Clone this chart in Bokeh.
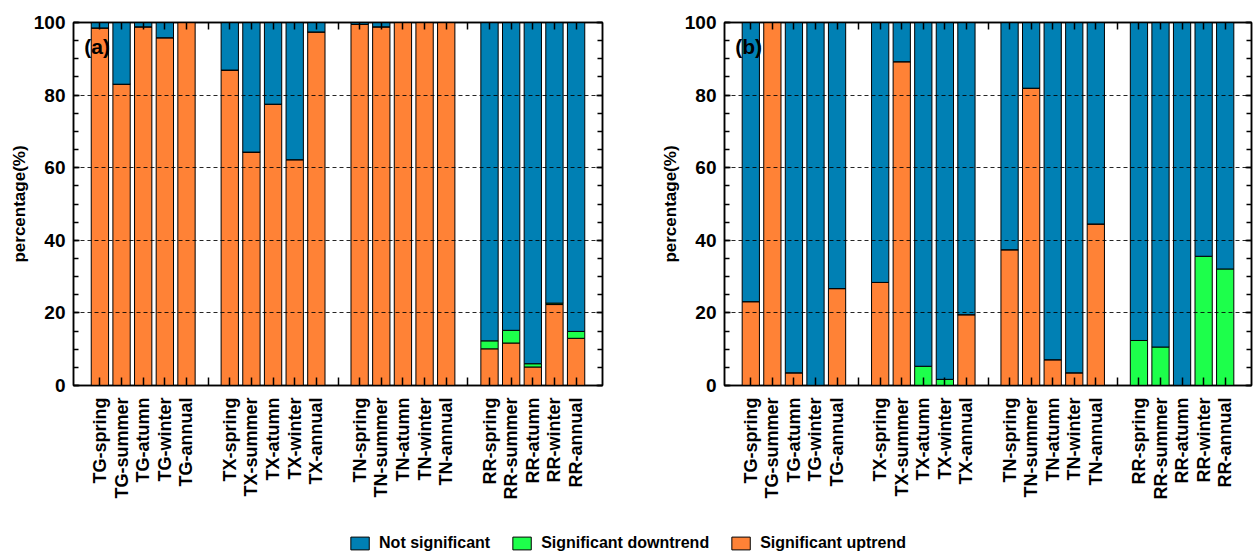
import math
from bokeh.plotting import figure
from bokeh.models import (Range1d, FixedTicker, LinearAxis, Label, Legend, LegendItem,
                          ColumnDataSource)
from bokeh.layouts import column, row
from bokeh.embed import file_html
from bokeh.resources import INLINE

# ---------------- data ----------------
groups = ["TG", "TX", "TN", "RR"]
seasons = ["spring", "summer", "atumn", "winter", "annual"]
categories = [f"{g}-{s}" for g in groups for s in seasons]

# panel (a)
up_a = [98.5, 83.0, 98.8, 95.8, 100.0,
        86.9, 64.3, 77.5, 62.2, 97.4,
        99.5, 98.8, 100.0, 100.0, 100.0,
        10.1, 11.7, 5.1, 22.3, 13.0]
down_a = [0, 0, 0, 0, 0,
          0, 0, 0, 0, 0,
          0, 0, 0, 0, 0,
          2.2, 3.5, 0.9, 0.4, 1.9]

# panel (b)
up_b = [23.1, 100.0, 3.5, 0.0, 26.7,
        28.4, 89.2, 0.0, 0.0, 19.5,
        37.4, 81.9, 7.1, 3.5, 44.5,
        0, 0, 0, 0, 0]
down_b = [0, 0, 0, 0, 0,
          0, 0, 5.3, 1.7, 0,
          0, 0, 0, 0, 0,
          12.4, 10.6, 0.0, 35.6, 32.1]

series_names = ["Not significant", "Significant downtrend", "Significant uptrend"]
y_ticks = [0, 20, 40, 60, 80, 100]

C_NS = "#0080b4"
C_DOWN = "#1dff4b"
C_UP = "#ff8236"

FONT = "Liberation Sans"

# positions: 5 bars per group, one empty slot between groups
xpos = [gi * 6 + si for gi in range(len(groups)) for si in range(len(seasons))]
all_ticks = list(range(len(groups) * 6 - 1))
overrides = {t: "" for t in all_ticks}
for x, c in zip(xpos, categories):
    overrides[x] = c
blank = {t: "" for t in all_ticks}
blank_y = {t: "" for t in y_ticks}

PH = 515      # panel figure height
TOP = 22
FRAME_H = 363


def make_panel(up, down, tag, width, bl, br):
    ns = [max(0.0, 100.0 - u - d) for u, d in zip(up, down)]
    src = ColumnDataSource(dict(x=xpos, up=up, down=down, ns=ns, cat=categories))
    p = figure(width=width, height=PH, toolbar_location=None, output_backend="svg",
               x_range=Range1d(-1.22, 23.22), y_range=Range1d(0, 100),
               min_border_left=bl, min_border_right=br, min_border_top=TOP,
               min_border_bottom=PH - TOP - FRAME_H)
    p.vbar_stack(["up", "down", "ns"], x="x", width=0.8, source=src,
                 color=[C_UP, C_DOWN, C_NS], line_color="black", line_width=1)

    p.outline_line_color = "black"
    p.outline_line_width = 1.5
    p.xgrid.visible = False
    p.ygrid.ticker = FixedTicker(ticks=[20, 40, 60, 80])
    p.ygrid.grid_line_color = "black"
    p.ygrid.grid_line_alpha = 0.85
    p.ygrid.grid_line_dash = "4 3"
    p.ygrid.grid_line_width = 1
    p.ygrid.level = "overlay"

    yt = FixedTicker(ticks=y_ticks, minor_ticks=list(range(0, 101, 5)))
    xt = FixedTicker(ticks=all_ticks, minor_ticks=[])

    ya = p.yaxis[0]
    ya.ticker = yt
    ya.axis_label = "percentage(%)"
    ya.axis_label_text_font = FONT
    ya.axis_label_text_font_style = "bold"
    ya.axis_label_text_font_size = "17px"
    ya.axis_label_text_color = "black"
    ya.axis_label_standoff = 2
    ya.major_label_text_font = FONT
    ya.major_label_text_font_style = "bold"
    ya.major_label_text_font_size = "19px"
    ya.major_label_standoff = 8

    xa = p.xaxis[0]
    xa.ticker = xt
    xa.major_label_overrides = overrides
    xa.major_label_orientation = math.pi / 2
    xa.major_label_text_font = FONT
    xa.major_label_text_font_style = "bold"
    xa.major_label_text_font_size = "18px"
    xa.major_label_standoff = 12

    for ax in (ya, xa):
        ax.axis_line_color = "black"
        ax.axis_line_width = 1.5
        ax.major_tick_line_color = "black"
        ax.minor_tick_line_color = "black"
        ax.major_tick_line_width = 1.5
        ax.minor_tick_line_width = 1.5
        ax.major_tick_out = 0
        ax.minor_tick_out = 0
        ax.major_label_text_color = "black"
    ya.major_tick_in = 6
    ya.minor_tick_in = 5
    xa.major_tick_in = 8

    ra = LinearAxis(ticker=yt, major_label_overrides=blank_y, major_label_text_font_size="1px",
                    major_label_text_color=None,
                    major_tick_in=6, minor_tick_in=5, major_tick_out=0, minor_tick_out=0,
                    axis_line_color="black", axis_line_width=1.5,
                    major_tick_line_width=1.5, minor_tick_line_width=1.5,
                    major_label_standoff=0, axis_label_standoff=0)
    p.add_layout(ra, "right")
    ta = LinearAxis(ticker=xt, major_label_overrides=blank, major_label_text_font_size="1px",
                    major_label_text_color=None,
                    major_tick_in=7, major_tick_out=0, minor_tick_out=0, minor_tick_in=0,
                    axis_line_color="black", axis_line_width=1.5,
                    major_tick_line_width=1.5, major_label_standoff=0, axis_label_standoff=0)
    p.add_layout(ta, "above")

    p.add_layout(Label(x=-0.72, y=93.4, text=tag, text_font=FONT, text_font_style="bold",
                       text_font_size="21px", text_baseline="middle", text_color="black"))
    return p


p1 = make_panel(up_a, down_a, "(a)", 612, 73, 10)
p2 = make_panel(up_b, down_b, "(b)", 642, 112, 3)

# legend strip
pl = figure(width=1254, height=552 - PH, toolbar_location=None, output_backend="svg",
            x_range=Range1d(0, 1), y_range=Range1d(0, 1), min_border=0,
            outline_line_color=None)
pl.axis.visible = False
pl.grid.visible = False
rs = []
for col in (C_NS, C_DOWN, C_UP):
    rs.append(pl.vbar(x=[-5], top=[-5], bottom=[-6], width=0.1, fill_color=col,
                      line_color="black", line_width=1))
legend = Legend(items=[LegendItem(label=n, renderers=[r]) for n, r in zip(series_names, rs)],
                orientation="horizontal", location="bottom_center", border_line_color=None,
                background_fill_alpha=0, label_text_font=FONT, label_text_font_style="bold",
                label_text_font_size="16px", label_text_color="black",
                glyph_width=23, glyph_height=16,
                label_standoff=8, spacing=20, padding=2, margin=0)
pl.add_layout(legend)

layout = column(row(p1, p2), pl)
open("out.html", "w").write(file_html(layout, INLINE))
